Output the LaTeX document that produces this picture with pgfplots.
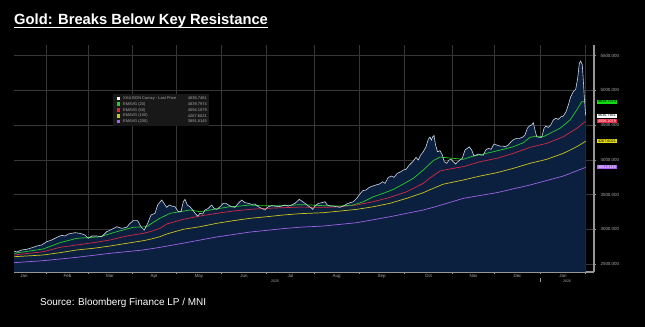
\documentclass[border=0pt]{standalone}
\usepackage{pgfplots}
\pgfplotsset{compat=1.18}
\usepackage{fontspec}
\setmainfont{Liberation Sans}
\definecolor{navyfill}{RGB}{10,32,62}
\definecolor{gridc}{RGB}{55,55,55}
\definecolor{axc}{RGB}{150,150,150}
\definecolor{lblc}{RGB}{170,170,170}
\definecolor{pricec}{RGB}{205,215,228}
\definecolor{emag}{RGB}{40,205,40}
\definecolor{emar}{RGB}{215,40,70}
\definecolor{emay}{RGB}{205,195,30}
\definecolor{emap}{RGB}{160,100,230}
\definecolor{legbg}{RGB}{24,24,24}

\pgfplotstableread{
x v
14 2687
16.7 2673
21.7 2702
26.7 2712
30 2726
33.3 2740
36.7 2759
41.7 2774
46.7 2821
51.7 2846
55 2870
58.3 2893
61.7 2913
65 2903
68.3 2932
71.7 2942
75 2951
80 2942
85 2918
88.3 2870
91.7 2903
96.7 2903
101.7 2893
106.7 2965
111.7 3000
116.7 3037
121.7 3014
126.7 3029
130 3086
133.3 3124
137.7 3124
141 3037
144.3 2990
147.7 3086
151 3206
155 3230
157.7 3350
160 3390
161.7 3422
164 3374
166.7 3316
169.3 3350
171.7 3335
175 3325
178.3 3253
181 3253
183.3 3397
185 3431
187.3 3350
190 3325
192.7 3278
195 3230
197.7 3191
200 3230
202.7 3220
205 3278
208.3 3302
211.7 3350
214 3302
216.7 3287
220 3325
223.3 3374
226 3374
228.3 3350
231.7 3325
235 3316
238.3 3374
241.7 3422
245 3383
248.3 3374
251.7 3360
255 3364
258.3 3325
261.7 3302
265 3278
268.3 3325
271.7 3340
275 3335
278.3 3325
281.7 3335
285 3350
288.3 3335
291.7 3350
295 3374
299.3 3431
302.7 3397
306 3364
308.3 3335
310.7 3316
312.7 3287
315 3335
318.3 3374
321.7 3383
325 3397
327.3 3350
330 3335
333.3 3335
336.7 3325
340 3316
343.3 3335
346.7 3364
350 3383
353.3 3397
356.7 3446
360 3508
362.7 3556
366 3566
369.3 3604
372.7 3623
376 3638
379.3 3652
382.7 3685
385 3662
388.3 3748
391.7 3767
394 3748
397.3 3806
400.7 3829
403.3 3854
406 3863
409.3 3926
412.7 3973
416 4036
418.3 3998
420.7 4070
423.3 4117
426 4189
428.3 4296
430 4330
431.3 4285
432.7 4330
434 4350
435.5 4220
437.5 4117
440 4132
442.3 4070
444.3 3973
446.7 3950
449 3998
451 4008
453.3 3973
455.7 3940
457.7 3973
460 3998
462.3 4022
465 4142
467.3 4166
469.3 4189
471.7 4142
474 4056
476 4070
478.3 4084
480.7 4070
483.3 4070
485.7 4142
488.3 4166
491 4152
494 4228
496.7 4214
500 4199
502.7 4199
505.3 4189
508.3 4214
511 4261
514 4296
516.7 4310
519.3 4310
522.3 4324
525 4358
527.3 4454
529.3 4487
531.7 4502
533.3 4535
535 4430
536.7 4333
539.3 4324
541.7 4324
544 4454
546 4487
548.3 4468
550.7 4502
553.3 4574
555.7 4598
558.3 4584
561 4621
563.3 4631
566 4693
568.3 4790
570.7 4909
573.3 4982
575.7 5016
577.7 5175
579.3 5390
580.7 5423
582.3 5366
583.3 5150
584.3 4909
585.7 4637
}\price

\pgfplotstableread{
x v
14 2654
43.3 2716
60 2807
76.7 2870
88.3 2880
100 2893
116.7 2965
133.3 3029
146.7 3037
150 3070
160 3160
170 3230
180 3253
190 3278
200 3253
210 3278
220 3302
230 3325
240 3335
250 3350
260 3340
270 3340
280 3340
290 3345
300 3355
310 3350
323.3 3340
340 3335
353.3 3350
363.3 3397
373.3 3469
383.3 3518
393.3 3575
403.3 3652
413.3 3734
423.3 3854
433.3 3990
440 4040
453.3 4022
463.3 4008
473.3 4056
483.3 4084
493.3 4117
503.3 4152
513.3 4189
523.3 4247
530 4324
536.7 4343
543.3 4333
550 4382
560 4454
570 4574
576.7 4718
581.7 4837
585.7 4840
}\emaA

\pgfplotstableread{
x v
14 2630
43.3 2677
60 2740
76.7 2774
93.3 2807
110 2846
126.7 2903
143.3 2942
150 2965
160 3014
166.7 3076
183.3 3144
200 3191
216.7 3230
233.3 3263
250 3287
266.7 3302
283.3 3311
300 3320
323.3 3316
340 3325
356.7 3350
373.3 3397
390 3460
406.7 3541
423.3 3662
430 3740
440 3840
453.3 3878
463.3 3902
480 3973
496.7 4022
513.3 4094
530 4180
546.7 4238
563.3 4333
576.7 4454
585.7 4556
}\emaB

\pgfplotstableread{
x v
14 2605
43.3 2630
60 2663
76.7 2702
93.3 2726
110 2759
126.7 2798
143.3 2836
150 2856
160 2893
166.7 2932
183.3 3000
200 3037
216.7 3086
233.3 3124
250 3158
266.7 3181
283.3 3206
300 3225
323.3 3239
356.7 3287
373.3 3325
390 3374
406.7 3446
423.3 3527
430 3570
443.3 3650
463.3 3710
480 3767
496.7 3815
513.3 3878
530 3950
546.7 4008
563.3 4094
576.7 4189
585.7 4268
}\emaC

\pgfplotstableread{
x v
14 2519
43.3 2548
76.7 2596
110 2654
143.3 2702
160 2740
183.3 2800
216.7 2890
250 2960
283.3 3010
300 3030
323.3 3047
356.7 3095
390 3181
423.3 3278
436.7 3330
463.3 3446
496.7 3527
530 3638
563.3 3767
585.7 3892
}\emaD

\newcommand{\tinyf}{\fontsize{4.5}{5}\selectfont}
\newcommand{\legf}{\fontsize{4}{4.5}\selectfont}
\newcommand{\tagf}{\fontsize{3.8}{4.2}\selectfont}

\begin{document}
\begin{tikzpicture}
\fill[black] (0bp,0bp) rectangle (645bp,327bp);
\useasboundingbox (0bp,0bp) rectangle (645bp,327bp);
\begin{axis}[
  at={(14bp,55bp)}, anchor=south west,
  scale only axis, width=580bp, height=227bp,
  xmin=14, xmax=594, ymin=2384.8, ymax=5654.7,
  axis x line*=bottom, axis y line*=right,
  axis line style={axc, line width=1.2bp},
  tick align=outside,
  major tick length=2bp, minor tick length=1.2bp,
  tick style={axc, line width=0.5bp},
  xtick={46.7,88.3,132.3,176,221.7,266.7,314.3,359,404.3,452.7,494.3,540.7,585},
  xticklabels={},
  extra x ticks={24,67.5,110,154,199,244,290.5,336.7,381.7,428.5,473.5,517.5,563},
  extra x tick labels={Jan,Feb,Mar,Apr,May,Jun,Jul,Aug,Sep,Oct,Nov,Dec,Jan},
  extra x tick style={grid=none, major tick length=0pt, tick label style={font=\tinyf, text=lblc, yshift=1bp}},
  ytick={2500,3000,3500,4000,4500,5000,5500},
  minor y tick num=1,
  xmajorgrids, ymajorgrids,
  grid style={gridc, line width=0.5bp},
  yticklabel style={font=\tinyf, text=lblc, xshift=1bp},
  /pgf/number format/.cd, fixed, fixed zerofill, precision=3, 1000 sep={}, assume math mode=true,
  /pgfplots/.cd,
]
\addplot[fill=navyfill, draw=none] table[x=x,y=v] {\price} \closedcycle;
\addplot[emap, line width=0.7bp] table[x=x,y=v] {\emaD};
\addplot[emay, line width=0.7bp] table[x=x,y=v] {\emaC};
\addplot[emar, line width=0.7bp] table[x=x,y=v] {\emaB};
\addplot[emag, line width=0.7bp] table[x=x,y=v] {\emaA};
\addplot[pricec, line width=0.6bp] table[x=x,y=v] {\price};
\coordinate (tg) at (axis cs:597,4839.8);
\coordinate (tw) at (axis cs:597,4636.7);
\coordinate (tr) at (axis cs:597,4556.1);
\coordinate (ty) at (axis cs:597,4267.6);
\coordinate (tp) at (axis cs:597,3891.6);
\end{axis}
% right-side value tags
\node[fill={rgb,255:red,20;green,220;blue,20}, text=black, anchor=west, inner xsep=0.8bp, inner ysep=0.6bp, font=\tagf] at (tg) {4839.7974};
\node[fill=white, text=black, anchor=west, inner xsep=0.8bp, inner ysep=0.6bp, font=\tagf] at (tw) {4636.7461};
\node[fill={rgb,255:red,230;green,40;blue,70}, text=white, anchor=west, inner xsep=0.8bp, inner ysep=0.6bp, font=\tagf] at (tr) {4556.1079};
\node[fill={rgb,255:red,230;green,220;blue,20}, text=black, anchor=west, inner xsep=0.8bp, inner ysep=0.6bp, font=\tagf] at (ty) {4267.6021};
\node[fill={rgb,255:red,170;green,100;blue,235}, text=white, anchor=west, inner xsep=0.8bp, inner ysep=0.6bp, font=\tagf] at (tp) {3891.6145};
% year labels
\node[font=\fontsize{3.6}{4}\selectfont, text=lblc, inner sep=0] at (275bp,46bp) {2025};
\node[font=\fontsize{3.6}{4}\selectfont, text=lblc, inner sep=0] at (567bp,46bp) {2026};
\draw[axc, line width=0.5bp] (540.7bp,45bp) -- (540.7bp,49bp);
% legend box
\fill[legbg] (113bp,201bp) rectangle (209bp,233bp);
\fill[white] (116.5bp,226.7bp) rectangle +(3.6bp,3.6bp);
\fill[emag] (116.5bp,220.95bp) rectangle +(3.6bp,3.6bp);
\fill[emar] (116.5bp,215.2bp) rectangle +(3.6bp,3.6bp);
\fill[emay] (116.5bp,209.45bp) rectangle +(3.6bp,3.6bp);
\fill[emap] (116.5bp,203.7bp) rectangle +(3.6bp,3.6bp);
\begin{scope}[every node/.style={font=\legf, text=lblc, inner sep=0}]
\node[anchor=west] at (123bp,228.5bp) {XAU BGN Curncy - Last Price};
\node[anchor=west] at (123bp,222.75bp) {EMAVG (20)};
\node[anchor=west] at (123bp,217bp) {EMAVG (50)};
\node[anchor=west] at (123bp,211.25bp) {EMAVG (100)};
\node[anchor=west] at (123bp,205.5bp) {EMAVG (200)};
\node[anchor=east] at (207bp,228.5bp) {4636.7461};
\node[anchor=east] at (207bp,222.75bp) {4839.7974};
\node[anchor=east] at (207bp,217bp) {4556.1079};
\node[anchor=east] at (207bp,211.25bp) {4267.6021};
\node[anchor=east] at (207bp,205.5bp) {3891.6145};
\end{scope}
% title and source
\node[anchor=base west, inner sep=0, font=\fontsize{14.8}{17}\selectfont\bfseries, text=white] at (14bp,302bp) {Gold: Breaks Below Key Resistance};
\draw[white, line width=1.1bp] (14bp,299.3bp) -- (268bp,299.3bp);
\node[anchor=base west, inner sep=0, font=\fontsize{10}{12}\selectfont, text=white] at (40bp,22bp) {Source: Bloomberg Finance LP / MNI};
\end{tikzpicture}
\end{document}
